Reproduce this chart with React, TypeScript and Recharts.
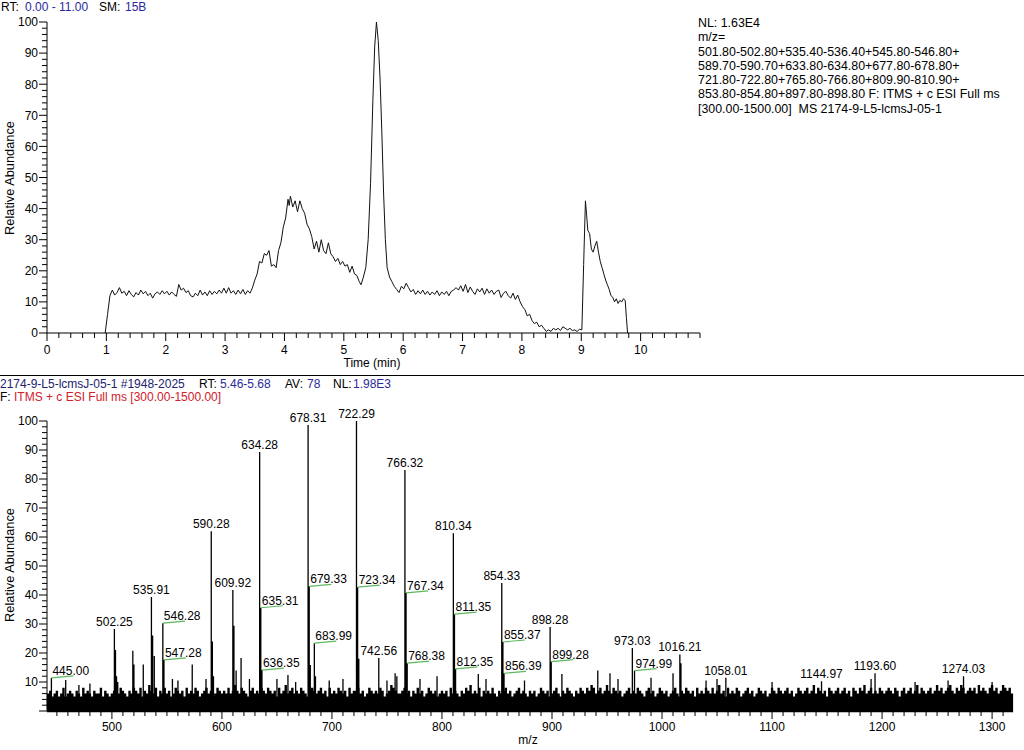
import React from 'react';
import { LineChart, Line, XAxis, YAxis, ComposedChart, Scatter } from 'recharts';

const FONT = '"Liberation Sans", Arial, Helvetica, sans-serif';

// ---------- Chromatogram (top) ----------
const CHROM: [number, number][] = [
  [0.98, 0], [1.02, 6], [1.06, 12], [1.10, 13.8], [1.14, 12.2], [1.18, 13], [1.22, 14.6], [1.26, 12.8], [1.30, 13.4],
  [1.34, 12], [1.38, 13.6], [1.42, 12.4], [1.46, 11.6], [1.50, 13], [1.54, 12.2], [1.58, 13.8], [1.62, 12.6], [1.66, 13.4],
  [1.70, 12], [1.74, 12.8], [1.78, 11.2], [1.82, 12.6], [1.86, 13.2], [1.90, 12.4], [1.94, 13.6], [1.98, 12.6], [2.02, 13.4],
  [2.06, 12.2], [2.10, 13.2], [2.14, 12.4], [2.18, 11.8], [2.22, 15.6], [2.26, 13.8], [2.30, 14.4], [2.34, 13], [2.38, 13.6],
  [2.42, 12], [2.46, 11.6], [2.50, 12.8], [2.54, 12], [2.58, 13.8], [2.62, 12.2], [2.66, 13.2], [2.70, 12], [2.74, 13.6],
  [2.78, 12.4], [2.82, 13.4], [2.86, 12.6], [2.90, 13.8], [2.94, 12.8], [2.98, 14.4], [3.02, 12.8], [3.06, 14.6], [3.10, 12.8],
  [3.14, 13.6], [3.18, 12.4], [3.22, 13.8], [3.26, 12.6], [3.30, 14], [3.34, 12.4], [3.38, 13.6], [3.42, 12.8], [3.46, 14.5],
  [3.50, 17], [3.54, 19], [3.58, 23], [3.62, 22.5], [3.66, 25.5], [3.70, 25], [3.74, 26.5], [3.78, 21.5], [3.82, 22],
  [3.86, 21], [3.90, 26.5], [3.94, 29], [3.98, 34], [4.02, 37], [4.06, 43], [4.08, 41], [4.10, 44], [4.14, 40.5],
  [4.18, 42.5], [4.22, 39], [4.26, 42.5], [4.30, 40], [4.34, 38.5], [4.38, 35], [4.42, 33.5], [4.46, 31], [4.50, 27],
  [4.54, 29.5], [4.58, 26], [4.62, 30], [4.66, 26.5], [4.70, 25.5], [4.74, 29], [4.78, 25.5], [4.82, 24.5], [4.86, 23],
  [4.90, 24], [4.94, 22], [4.98, 23], [5.02, 21.5], [5.06, 22], [5.10, 19.5], [5.14, 21.5], [5.18, 19], [5.22, 18.5],
  [5.26, 16.5], [5.29, 15.5], [5.33, 18], [5.37, 21], [5.41, 30], [5.45, 48], [5.49, 75], [5.52, 92], [5.55, 100],
  [5.58, 94], [5.61, 82], [5.64, 65], [5.67, 45], [5.70, 30], [5.73, 21], [5.77, 18], [5.81, 16.5], [5.85, 15],
  [5.89, 14], [5.93, 13], [5.97, 15], [6.01, 14.2], [6.05, 16], [6.09, 14.6], [6.13, 13.2], [6.17, 14], [6.21, 12.4],
  [6.25, 13.6], [6.29, 12.6], [6.33, 13.8], [6.37, 12.4], [6.41, 13.4], [6.45, 12.2], [6.49, 13.2], [6.53, 12.4],
  [6.57, 13.6], [6.61, 12], [6.65, 13.2], [6.69, 12.4], [6.73, 13.4], [6.77, 12], [6.81, 13.4], [6.85, 13.8], [6.89, 14.6],
  [6.93, 13.8], [6.97, 15.2], [7.01, 13.4], [7.05, 15.6], [7.09, 13], [7.13, 14.8], [7.17, 13.4], [7.21, 12.4], [7.25, 14.2],
  [7.29, 13.2], [7.33, 14.4], [7.37, 12.4], [7.41, 14.2], [7.45, 12.8], [7.49, 13.8], [7.53, 12.4], [7.57, 13.4],
  [7.61, 13.8], [7.65, 11.4], [7.69, 12.8], [7.73, 13.4], [7.77, 12], [7.81, 11.2], [7.85, 12.8], [7.89, 10.8], [7.93, 12.2],
  [7.97, 10], [8.01, 8.5], [8.05, 7.5], [8.09, 5.5], [8.13, 6], [8.17, 4], [8.21, 3], [8.25, 3.5], [8.29, 2],
  [8.33, 2.5], [8.37, 1.5], [8.41, 0.5], [8.45, 1], [8.49, 0.5], [8.53, 1.5], [8.57, 1], [8.61, 1.5], [8.65, 0.8],
  [8.69, 2], [8.73, 1.5], [8.77, 1], [8.81, 1.5], [8.85, 0.8], [8.89, 1], [8.93, 0.5], [8.97, 1.2], [9.01, 1],
  [9.04, 22], [9.07, 42.5], [9.09, 38], [9.11, 33], [9.14, 32], [9.17, 27], [9.20, 26], [9.23, 28], [9.26, 29.5],
  [9.29, 26], [9.32, 23], [9.35, 21], [9.38, 19], [9.41, 17], [9.44, 15.5], [9.47, 14], [9.50, 12], [9.53, 11.5],
  [9.56, 10], [9.59, 11], [9.62, 9.5], [9.65, 10.5], [9.68, 10], [9.71, 11], [9.74, 10.5], [9.76, 5], [9.78, 0],
];

const TIME_TICKS = [
  0, 0.2, 0.4, 0.6, 0.8, 1, 1.2, 1.4, 1.6, 1.8, 2, 2.2, 2.4, 2.6, 2.8, 3, 3.2, 3.4, 3.6, 3.8, 4, 4.2, 4.4, 4.6, 4.8,
  5, 5.2, 5.4, 5.6, 5.8, 6, 6.2, 6.4, 6.6, 6.8, 7, 7.2, 7.4, 7.6, 7.8, 8, 8.2, 8.4, 8.6, 8.8, 9, 9.2, 9.4, 9.6, 9.8,
  10, 10.2, 10.4, 10.6, 10.8, 11,
];
const TIME_LABELS = [0, 1, 2, 3, 4, 5, 6, 7, 8, 9, 10];

const Y_TICKS = [
  0, 2, 4, 6, 8, 10, 12, 14, 16, 18, 20, 22, 24, 26, 28, 30, 32, 34, 36, 38, 40, 42, 44, 46, 48, 50, 52, 54, 56, 58,
  60, 62, 64, 66, 68, 70, 72, 74, 76, 78, 80, 82, 84, 86, 88, 90, 92, 94, 96, 98, 100,
];
const TOP_Y_LABELS = [0, 10, 20, 30, 40, 50, 60, 70, 80, 90, 100];
const SPEC_Y_LABELS = [10, 20, 30, 40, 50, 60, 70, 80, 90, 100];

// ---------- Spectrum (bottom) ----------
const SPEC_X_TICKS = [
  450, 460, 470, 480, 490, 500, 510, 520, 530, 540, 550, 560, 570, 580, 590, 600, 610, 620, 630, 640, 650, 660, 670,
  680, 690, 700, 710, 720, 730, 740, 750, 760, 770, 780, 790, 800, 810, 820, 830, 840, 850, 860, 870, 880, 890, 900,
  910, 920, 930, 940, 950, 960, 970, 980, 990, 1000, 1010, 1020, 1030, 1040, 1050, 1060, 1070, 1080, 1090, 1100,
  1110, 1120, 1130, 1140, 1150, 1160, 1170, 1180, 1190, 1200, 1210, 1220, 1230, 1240, 1250, 1260, 1270, 1280, 1290,
  1300, 1310,
];
const SPEC_X_LABELS = [500, 600, 700, 800, 900, 1000, 1100, 1200, 1300];

const NOISE_START = 442;
const NOISE_STEP = 2;
const NOISE = [
  6, 7, 5, 6, 7, 5, 6, 8, 5, 6, 7, 6, 5, 7, 6, 5, 8, 6, 7, 6,
  5, 7, 6, 6, 8, 5, 7, 6, 5, 6, 7, 5, 6, 8, 7, 6, 5, 7, 6, 8,
  7, 6, 8, 5, 7, 6, 9, 7, 6, 8, 5, 7, 6, 8, 6, 7, 5, 6, 8, 7,
  6, 7, 5, 8, 6, 7, 6, 8, 7, 5, 6, 7, 8, 6, 7, 5, 6, 8, 7, 6,
  7, 6, 8, 6, 7, 9, 7, 6, 8, 7, 6, 5, 7, 8, 6, 7, 6, 8, 7, 6,
  8, 7, 6, 7, 5, 8, 6, 7, 9, 6, 7, 8, 6, 7, 6, 8, 7, 6, 5, 7,
  8, 7, 6, 7, 8, 6, 7, 5, 8, 6, 7, 6, 8, 7, 6, 7, 5, 8, 6, 7,
  7, 8, 6, 7, 5, 6, 8, 7, 6, 7, 6, 8, 7, 5, 6, 7, 9, 8, 7, 6,
  6, 7, 8, 6, 7, 5, 7, 6, 8, 6, 7, 5, 6, 8, 7, 6, 7, 5, 6, 7,
  6, 7, 5, 8, 6, 7, 6, 5, 7, 6, 8, 7, 9, 6, 7, 6, 8, 5, 7, 6,
  7, 6, 8, 6, 5, 7, 6, 7, 8, 6, 7, 5, 6, 7, 8, 6, 7, 6, 5, 7,
  6, 7, 5, 6, 8, 7, 6, 7, 5, 6, 7, 8, 6, 5, 7, 6, 8, 7, 6, 5,
  7, 6, 8, 7, 6, 8, 7, 9, 8, 6, 7, 8, 6, 7, 9, 7, 6, 8, 7, 6,
  7, 5, 6, 7, 8, 6, 7, 6, 8, 7, 6, 5, 7, 8, 6, 7, 5, 6, 8, 7,
  6, 7, 5, 6, 7, 8, 6, 5, 7, 6, 8, 7, 6, 7, 5, 8, 6, 7, 6, 8,
  7, 6, 8, 6, 7, 9, 6, 7, 5, 8, 6, 7, 6, 8, 7, 5, 6, 7, 8, 6,
  7, 5, 6, 8, 7, 6, 7, 5, 6, 8, 7, 6, 8, 7, 6, 7, 8, 6, 7, 5,
  6, 8, 7, 6, 7, 8, 6, 7, 9, 6, 8, 7, 6, 7, 5, 8, 7, 6, 7, 8,
  6, 7, 8, 6, 7, 5, 8, 7, 6, 8, 7, 9, 6, 7, 8, 6, 7, 6, 8, 7,
  6, 7, 8, 7, 6, 8, 7, 5, 7, 8, 6, 7, 8, 6, 7, 9, 6, 8, 7, 6,
  7, 8, 6, 7, 9, 7, 8, 6, 7, 8, 9, 7, 6, 8, 7, 9, 8, 6, 7, 8,
  7, 8, 6, 9, 7, 8, 7, 6, 8, 9, 7, 8, 6, 7, 9, 8, 7, 8, 6,
];

const PEAKS: [number, number][] = [
  [445.0, 11.4], [458, 10.7], [470, 9], [480, 9.5],
  [502.25, 28.3], [503.25, 21], [504.2, 12], [505.3, 10],
  [519, 20.8], [520, 16], [528.5, 16], [535.91, 39.3], [537, 26], [538.5, 19],
  [546.28, 30.3], [547.28, 17.6], [555, 11], [560, 10.5], [573, 16], [585.5, 11],
  [590.28, 62], [591.3, 24], [592.3, 12], [609.92, 41.7], [610.9, 29.4], [612.9, 14], [617.4, 18.3], [625, 11],
  [634.28, 89.3], [635.31, 35.6], [636.35, 14.1], [650, 11], [660, 12.4], [667, 10],
  [678.31, 98.6], [679.33, 43], [680.3, 15.9], [683.99, 23.4], [685, 12], [697.5, 10.5], [710, 11],
  [722.29, 100], [723.34, 42.7], [724.4, 18], [742.56, 18.3], [750, 10.5], [757.4, 13], [759, 12],
  [766.32, 83.1], [767.34, 40.7], [768.38, 16.5], [780, 11], [795.5, 12],
  [810.34, 61.3], [811.35, 33.4], [812.35, 14.5], [833, 12.8], [840, 11],
  [854.33, 44.1], [855.37, 23.8], [856.39, 13], [875, 10.5], [898.28, 29], [899.28, 17], [909, 12.8],
  [941.6, 14], [952.7, 13], [960, 11], [973.03, 21.7], [974.99, 13.9], [990, 11.5], [1010, 13],
  [1016.21, 19.5], [1017.2, 16.5], [1040, 10.5], [1050, 11], [1058.01, 11.5], [1100, 10], [1144.97, 10.3],
  [1190, 11], [1193.6, 13], [1230, 10], [1260, 10.5], [1274.03, 12], [1300, 10],
];

const LABELED = [
  445.0, 502.25, 535.91, 546.28, 547.28, 590.28, 609.92, 634.28, 635.31, 636.35, 678.31, 679.33, 683.99, 722.29,
  723.34, 742.56, 766.32, 767.34, 768.38, 810.34, 811.35, 812.35, 854.33, 855.37, 856.39, 898.28, 899.28, 973.03,
  974.99, 1016.21, 1058.01, 1144.97, 1193.6, 1274.03,
];
const GREEN_LABELED = [
  445.0, 546.28, 547.28, 635.31, 636.35, 679.33, 683.99, 723.34, 767.34, 768.38, 811.35, 812.35, 855.37, 856.39,
  899.28, 974.99,
];

// ---------- derived tables ----------
const chromData = CHROM.map(([t, v]) => ({ t, v }));

const noiseData: { mz: number; v: number }[] = [];
NOISE.forEach((v, i) => {
  const mz = NOISE_START + i * NOISE_STEP;
  noiseData.push({ mz, v: 0 }, { mz, v }, { mz, v: 0 });
});
const peakData: { mz: number; v: number }[] = [];
PEAKS.forEach(([mz, v]) => {
  peakData.push({ mz, v: 0 }, { mz, v }, { mz, v: 0 });
});
const labelData = LABELED.map((mz) => {
  const p = PEAKS.find((q) => q[0] === mz);
  return { mz, v: p ? p[1] : 0, label: mz.toFixed(2), green: GREEN_LABELED.includes(mz) };
});

// ---------- custom ticks ----------
const makeXTick = (labels: number[], labelDy: number) => (props: any) => {
  const { x, y, payload } = props;
  const v = payload.value;
  const major = labels.includes(v);
  return (
    <g>
      <line x1={x} x2={x} y1={y} y2={y + (major ? 8 : 5)} stroke="#000" strokeWidth={1} />
      {major && (
        <text x={x} y={y + labelDy} textAnchor="middle" fontSize={12} fontFamily={FONT} fill="#000">
          {v}
        </text>
      )}
    </g>
  );
};

const makeYTick = (labels: number[]) => (props: any) => {
  const { x, y, payload } = props;
  const v = payload.value;
  const major = v % 10 === 0;
  return (
    <g>
      <line x1={x - (major ? 8 : 5)} x2={x} y1={y} y2={y} stroke="#000" strokeWidth={1} />
      {labels.includes(v) && (
        <text x={x - 9} y={y + 4.3} textAnchor="end" fontSize={12} fontFamily={FONT} fill="#000">
          {v}
        </text>
      )}
    </g>
  );
};

const PeakLabel = (props: any) => {
  const { cx, cy } = props;
  const d = props.payload ?? props;
  if (cx == null || cy == null) return null;
  if (d.green) {
    return (
      <g>
        <line x1={cx} y1={cy} x2={cx + 22} y2={cy - 2} stroke="#5cb85c" strokeWidth={1.2} />
        <text x={cx + 1} y={cy - 3} textAnchor="start" fontSize={12} fontFamily={FONT} fill="#000">
          {d.label}
        </text>
      </g>
    );
  }
  return (
    <text x={cx} y={cy - 3} textAnchor="middle" fontSize={12} fontFamily={FONT} fill="#000">
      {d.label}
    </text>
  );
};

const txt = (color: string): React.CSSProperties => ({ color, position: 'absolute', whiteSpace: 'nowrap' });

export default function App() {
  const blue = '#2a2a9c';
  const navy = '#22226e';
  const red = '#d0202a';
  return (
    <div
      style={{
        position: 'absolute',
        left: 0,
        top: 0,
        width: 1024,
        height: 750,
        background: '#fff',
        fontFamily: FONT,
        fontSize: 12,
        lineHeight: '14px',
        overflow: 'hidden',
      }}
    >
      {/* header top */}
      <span style={{ ...txt('#000'), left: 1, top: 0 }}>RT:</span>
      <span style={{ ...txt(blue), left: 25, top: 0 }}>0.00 - 11.00</span>
      <span style={{ ...txt('#000'), left: 99, top: 0 }}>SM:</span>
      <span style={{ ...txt(blue), left: 125, top: 0 }}>15B</span>

      {/* NL block */}
      <div
        style={{
          position: 'absolute',
          left: 698,
          top: 16,
          fontSize: 12.4,
          lineHeight: '14.3px',
          color: '#000',
          whiteSpace: 'pre',
        }}
      >
        {'NL: 1.63E4\nm/z=\n501.80-502.80+535.40-536.40+545.80-546.80+\n589.70-590.70+633.80-634.80+677.80-678.80+\n721.80-722.80+765.80-766.80+809.90-810.90+\n853.80-854.80+897.80-898.80 F: ITMS + c ESI Full ms\n[300.00-1500.00]  MS 2174-9-L5-lcmsJ-05-1'}
      </div>

      {/* top chart */}
      <div style={{ position: 'absolute', left: 0, top: 0 }}>
        <LineChart width={1024} height={375} data={chromData} margin={{ top: 22, right: 324, bottom: 0, left: 0 }}>
          <XAxis
            dataKey="t"
            type="number"
            domain={[0, 11]}
            ticks={TIME_TICKS}
            interval={0}
            height={42}
            tickSize={0}
            tickMargin={0}
            tickLine={false}
            axisLine={{ stroke: '#000' }}
            tick={makeXTick(TIME_LABELS, 21)}
          />
          <YAxis
            type="number"
            domain={[0, 100]}
            ticks={Y_TICKS}
            interval={0}
            width={47}
            tickSize={0}
            tickMargin={0}
            tickLine={false}
            axisLine={{ stroke: '#000' }}
            tick={makeYTick(TOP_Y_LABELS)}
          />
          <Line dataKey="v" type="linear" stroke="#111" strokeWidth={1} dot={false} isAnimationActive={false} />
        </LineChart>
      </div>

      <div
        style={{
          ...txt('#000'),
          left: 10,
          top: 178,
          fontSize: 12.8,
          transform: 'translate(-50%, -50%) rotate(-90deg)',
        }}
      >
        Relative Abundance
      </div>
      <div style={{ ...txt('#000'), left: 372, top: 363, transform: 'translate(-50%, -50%)' }}>Time (min)</div>

      {/* divider */}
      <div style={{ position: 'absolute', left: 0, top: 375, width: 1024, height: 1, background: '#000' }} />

      {/* header bottom */}
      <span style={{ ...txt(navy), left: 0, top: 377 }}>2174-9-L5-lcmsJ-05-1 #1948-2025</span>
      <span style={{ ...txt('#000'), left: 199, top: 377 }}>RT:</span>
      <span style={{ ...txt(blue), left: 220, top: 377 }}>5.46-5.68</span>
      <span style={{ ...txt('#000'), left: 285, top: 377 }}>AV:</span>
      <span style={{ ...txt(blue), left: 307, top: 377 }}>78</span>
      <span style={{ ...txt('#000'), left: 333, top: 377 }}>NL:</span>
      <span style={{ ...txt(blue), left: 353, top: 377 }}>1.98E3</span>
      <span style={{ ...txt('#000'), left: 0, top: 390 }}>F:</span>
      <span style={{ ...txt(red), left: 14, top: 390 }}>ITMS + c ESI Full ms [300.00-1500.00]</span>

      {/* bottom chart */}
      <div style={{ position: 'absolute', left: 0, top: 375 }}>
        <ComposedChart width={1024} height={375} margin={{ top: 46, right: 11, bottom: 0, left: 0 }}>
          <XAxis
            dataKey="mz"
            type="number"
            domain={[441, 1319]}
            ticks={SPEC_X_TICKS}
            interval={0}
            height={39}
            tickSize={0}
            tickMargin={0}
            tickLine={false}
            axisLine={{ stroke: '#000' }}
            tick={makeXTick(SPEC_X_LABELS, 20)}
          />
          <YAxis
            dataKey="v"
            type="number"
            domain={[0, 100]}
            ticks={Y_TICKS}
            interval={0}
            width={47}
            tickSize={0}
            tickMargin={0}
            tickLine={false}
            axisLine={{ stroke: '#000' }}
            tick={makeYTick(SPEC_Y_LABELS)}
          />
          <Line
            data={noiseData}
            dataKey="v"
            type="linear"
            stroke="#000"
            strokeWidth={2.4}
            strokeLinejoin="miter"
            dot={false}
            isAnimationActive={false}
          />
          <Line
            data={peakData}
            dataKey="v"
            type="linear"
            stroke="#000"
            strokeWidth={1.3}
            dot={false}
            isAnimationActive={false}
          />
          <Scatter data={labelData} dataKey="v" shape={(p: any) => <PeakLabel {...p} />} isAnimationActive={false} />
        </ComposedChart>
      </div>

      <div
        style={{
          ...txt('#000'),
          left: 10,
          top: 565,
          fontSize: 12.8,
          transform: 'translate(-50%, -50%) rotate(-90deg)',
        }}
      >
        Relative Abundance
      </div>
      <div style={{ ...txt('#000'), left: 528, top: 740, transform: 'translate(-50%, -50%)' }}>m/z</div>
    </div>
  );
}
